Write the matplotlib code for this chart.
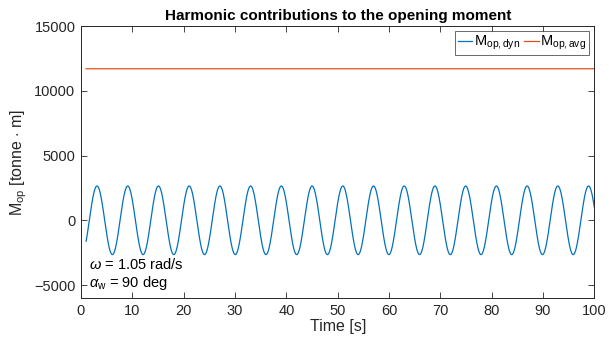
import numpy as np
import matplotlib
matplotlib.use("Agg")
import matplotlib.pyplot as plt

# Harmonic parameters of the dynamic opening moment
omega = 1.05            # rad/s
amplitude = 2650.0      # tonne*m
phase = -1.705          # rad
alpha_w = 90            # deg
m_avg = 11700.0         # tonne*m (mean opening moment)
t_start, t_end = 1.0, 100.0

x_ticks = [0, 10, 20, 30, 40, 50, 60, 70, 80, 90, 100]
y_ticks = [-5000, 0, 5000, 10000, 15000]

plt.rcParams["font.family"] = ["Liberation Sans", "DejaVu Sans"]
plt.rcParams["mathtext.fontset"] = "custom"
plt.rcParams["mathtext.rm"] = "Liberation Sans"
plt.rcParams["mathtext.it"] = "Liberation Sans:italic"
plt.rcParams["mathtext.bf"] = "Liberation Sans:bold"

t = np.arange(t_start, t_end + 1e-9, 0.05)
m_dyn = amplitude * np.sin(omega * t + phase)
m_mean = np.full_like(t, m_avg)

blue = (0.0, 0.447, 0.741)
orange = (0.85, 0.325, 0.098)
axis_col = (0.15, 0.15, 0.15)

fig = plt.figure(figsize=(6.09, 3.37), dpi=100)
ax = fig.add_axes([0.133, 0.1157, 0.843, 0.8071])

ax.plot(t, m_dyn, color=blue, lw=0.9, label=r"M$_{\rm op,dyn}$")
ax.plot(t, m_mean, color=orange, lw=0.9, label=r"M$_{\rm op,avg}$")

ax.set_xlim(0, 100)
ax.set_ylim(-6000, 15000)
ax.set_xticks(x_ticks)
ax.set_yticks(y_ticks)
ax.tick_params(direction="in", length=4, width=0.6, top=True, right=True,
               labelsize=10.5, colors=axis_col, pad=4)
for s in ax.spines.values():
    s.set_color(axis_col)
    s.set_linewidth(0.7)

ax.set_title("Harmonic contributions to the opening moment",
             fontsize=11, fontweight="bold", pad=4)
ax.set_xlabel("Time [s]", fontsize=11.5, color=axis_col, labelpad=1)
ax.set_ylabel(r"M$_{\rm op}$ [tonne $\cdot$ m]", fontsize=11.5, color=axis_col, labelpad=4)

ax.text(1.6, -3450, r"$\omega$ = %.2f rad/s" % omega, fontsize=10.5, va="center")
ax.text(1.6, -4850, r"$\alpha_{\rm w}$ = %d deg" % alpha_w, fontsize=10.5, va="center")

leg = ax.legend(loc="upper right", ncol=2, fontsize=10.5, frameon=True,
                fancybox=False, handlelength=1.0, handletextpad=0.1,
                columnspacing=0.3, borderpad=0.2, borderaxespad=0.35)
leg.get_frame().set_edgecolor(axis_col)
leg.get_frame().set_linewidth(0.6)

fig.savefig("out.png", dpi=100)
